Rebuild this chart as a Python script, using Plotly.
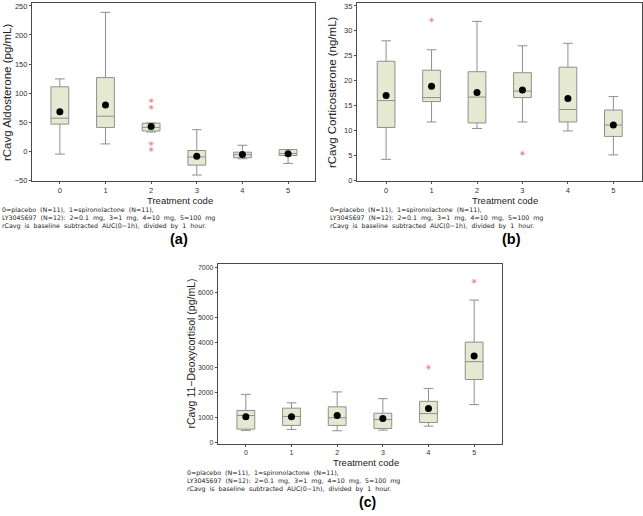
import plotly.graph_objects as go

W, H = 643, 516

cats = [0, 1, 2, 3, 4, 5]
tick_labels = ["0", "1", "2", "3", "4", "5"]

# Panel (a): rCavg Aldosterone (pg/mL)
a_low = [-5, 12.5, 33, -41, -13, -21]
a_q1 = [46.6, 40.9, 34.7, -24, -11.3, -7.4]
a_med = [56.8, 60.2, 41, -10, -6, -4]
a_q3 = [110.8, 126.7, 48.3, 1.2, -1.7, 2.8]
a_up = [124.4, 239, 48.3, 37, 10.2, 2.8]
a_mean = [68, 79.6, 42.6, -8.5, -5.7, -4.5]
a_out_x = [2, 2, 2, 2]
a_out_y = [87, 75.6, 13, 3]
a_ticks = [-50, 0, 50, 100, 150, 200, 250]

# Panel (b): rCavg Corticosterone (ng/mL)
b_low = [4.2, 11.7, 10.4, 11.7, 9.9, 5.1]
b_q1 = [10.6, 15.8, 11.5, 16.6, 11.7, 8.8]
b_med = [16.0, 16.6, 16.7, 17.9, 14.2, 11.1]
b_q3 = [23.9, 22.1, 21.8, 21.6, 22.7, 14.1]
b_up = [28.0, 26.2, 31.9, 27.0, 27.5, 16.8]
b_mean = [17.0, 18.9, 17.6, 18.1, 16.4, 11.1]
b_out_x = [1, 3]
b_out_y = [32.2, 5.4]
b_ticks = [0, 5, 10, 15, 20, 25, 30, 35]

# Panel (c): rCavg 11-Deoxycortisol (pg/mL)
c_low = [490, 530, 477, 502, 660, 1519]
c_q1 = [540, 689, 689, 568, 806, 2523]
c_med = [1085, 1047, 994, 925, 1162, 3236]
c_q3 = [1285, 1378, 1431, 1176, 1651, 4016]
c_up = [1930, 1590, 2027, 1757, 2166, 5693]
c_mean = [1040, 1033, 1087, 964, 1360, 3461]
c_out_x = [4, 5]
c_out_y = [3012, 6446]
c_ticks = [0, 1000, 2000, 3000, 4000, 5000, 6000, 7000]

footnote = [
    "0=placebo  (N=11),  1=spironolactone  (N=11),",
    "LY3045697  (N=12):  2=0.1  mg,  3=1  mg,  4=10  mg,  5=100  mg",
    "rCavg  is  baseline  subtracted  AUC(0\u22121h),  divided  by  1  hour.",
]

FONT = "Liberation Sans, Arial, sans-serif"
FOOT_FONT = "DejaVu Sans, sans-serif"
BOX_FILL = "#e6e9d2"
BOX_LINE = "#8f8f8f"
OUT_COL = "#ee8088"

fig = go.Figure()

panels = [
    dict(low=a_low, q1=a_q1, med=a_med, q3=a_q3, up=a_up, mean=a_mean,
         ox=a_out_x, oy=a_out_y, xa="x", ya="y"),
    dict(low=b_low, q1=b_q1, med=b_med, q3=b_q3, up=b_up, mean=b_mean,
         ox=b_out_x, oy=b_out_y, xa="x2", ya="y2"),
    dict(low=c_low, q1=c_q1, med=c_med, q3=c_q3, up=c_up, mean=c_mean,
         ox=c_out_x, oy=c_out_y, xa="x3", ya="y3"),
]

for p in panels:
    fig.add_trace(go.Box(
        x=cats, q1=p["q1"], median=p["med"], q3=p["q3"],
        lowerfence=p["low"], upperfence=p["up"],
        boxpoints=False, fillcolor=BOX_FILL,
        line=dict(color=BOX_LINE, width=1),
        width=0.39, whiskerwidth=0.55,
        xaxis=p["xa"], yaxis=p["ya"], showlegend=False, hoverinfo="skip",
    ))
    fig.add_trace(go.Scatter(
        x=cats, y=p["mean"], mode="markers",
        marker=dict(color="black", size=7),
        xaxis=p["xa"], yaxis=p["ya"], showlegend=False, hoverinfo="skip",
    ))
    fig.add_trace(go.Scatter(
        x=p["ox"], y=p["oy"], mode="markers",
        marker=dict(symbol="asterisk-open", size=4, color=OUT_COL,
                    line=dict(color=OUT_COL, width=0.8)),
        xaxis=p["xa"], yaxis=p["ya"], showlegend=False, hoverinfo="skip",
    ))


def px_x(v):
    return v / W


def px_y(v):
    return 1 - v / H


axis_common = dict(
    showline=True, mirror=True, linecolor="#4a4a4a", linewidth=1.2,
    showgrid=False, zeroline=False, ticks="outside", ticklen=2,
    tickcolor="#4a4a4a", tickfont=dict(size=7.5, color="#333", family=FONT),
)

fig.update_layout(
    width=W, height=H,
    margin=dict(l=0, r=0, t=0, b=0),
    paper_bgcolor="white", plot_bgcolor="white",
    boxmode="overlay",
    font=dict(family=FONT),
    xaxis=dict(domain=[px_x(32), px_x(315)], range=[-0.61, 5.59],
               tickvals=cats, ticktext=tick_labels, anchor="y", **axis_common),
    yaxis=dict(domain=[px_y(182), px_y(2)], range=[-51.7, 255.1],
               tickvals=a_ticks, anchor="x", **axis_common),
    xaxis2=dict(domain=[px_x(357), px_x(642)], range=[-0.64, 5.63],
                tickvals=cats, ticktext=tick_labels, anchor="y2", **axis_common),
    yaxis2=dict(domain=[px_y(182), px_y(2)], range=[-0.2, 35.6],
                tickvals=b_ticks, anchor="x2", **axis_common),
    xaxis3=dict(domain=[px_x(218), px_x(502)], range=[-0.61, 5.61],
                tickvals=cats, ticktext=tick_labels, anchor="y3", **axis_common),
    yaxis3=dict(domain=[px_y(447), px_y(266)], range=[-40, 7119],
                tickvals=c_ticks, anchor="x3", **axis_common),
)
fig.update_layout(yaxis3_tickfont=dict(size=7, color="#333", family=FONT),
                  xaxis3_tickfont=dict(size=7, color="#333", family=FONT))

ann = []


def text(x, y, s, size, xanchor="center", yanchor="middle", angle=0,
         color="#222", family=FONT):
    ann.append(dict(
        x=px_x(x), y=px_y(y), xref="paper", yref="paper", text=s,
        showarrow=False, xanchor=xanchor, yanchor=yanchor, textangle=angle,
        borderpad=0, align="left",
        font=dict(size=size, family=family, color=color),
    ))


foot_text = "<br>".join(footnote)

# Panel (a)
text(7, 92, "rCavg Aldosterone (pg/mL)", 11.5, angle=-90)
text(180, 201.5, "Treatment code", 9.5)
text(1, 205.5, foot_text, 6.3, xanchor="left", yanchor="top", family=FOOT_FONT)
text(179, 240, "<b>(a)</b>", 14.5, color="black")

# Panel (b)
text(332, 92, "rCavg Corticosterone (ng/mL)", 11.5, angle=-90)
text(505, 201.5, "Treatment code", 9.5)
text(329, 205.5, foot_text, 6.3, xanchor="left", yanchor="top", family=FOOT_FONT)
text(511, 240, "<b>(b)</b>", 14.5, color="black")

# Panel (c)
text(191, 356, "rCavg 11\u2212Deoxycortisol (pg/mL)", 10.5, angle=-90)
text(366, 466.5, "Treatment code", 9.5)
text(186, 471.5, foot_text, 6.3, xanchor="left", yanchor="top", family=FOOT_FONT)
text(367, 506, "<b>(c)</b>", 14, color="black")

fig.update_layout(annotations=ann)

fig.write_html("out.html", config={"displayModeBar": False},
               post_script="document.body.style.margin='0';")
